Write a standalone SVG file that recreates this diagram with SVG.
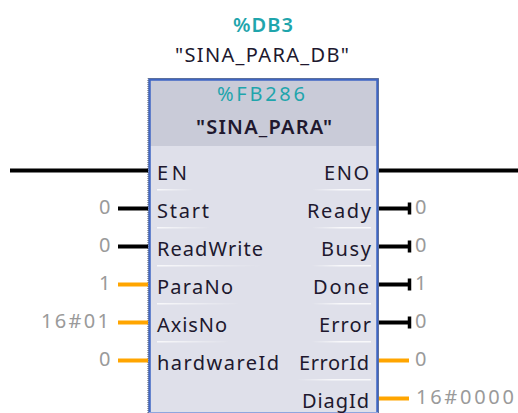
<svg xmlns="http://www.w3.org/2000/svg" width="518" height="413" viewBox="0 0 518 413">
<style>
text{font-family:"Noto Sans","Liberation Sans",sans-serif;font-size:20px;fill:#20182e}
.c{fill:#1fa5ac}
.v{fill:#9a9a9a}
.k{fill:none;stroke:#000;stroke-width:4}
.o{fill:none;stroke:#ffa500;stroke-width:4}
</style>
<defs>
<linearGradient id="fr"><stop offset="0" stop-color="#fff"/><stop offset="1" stop-color="#fff" stop-opacity="0"/></linearGradient>
<linearGradient id="fl"><stop offset="0" stop-color="#fff" stop-opacity="0"/><stop offset=".5" stop-color="#fff"/><stop offset="1" stop-color="#fff"/></linearGradient>
</defs>
<rect width="518" height="413" fill="#fff"/>
<g id="instance-labels">
<text class="c" x="233" y="32" font-weight="600" textLength="60" lengthAdjust="spacing">%DB3</text>
<text x="175" y="62" textLength="174" lengthAdjust="spacing">"SINA_PARA_DB"</text>
</g>
<g id="block">
<rect x="150" y="80" width="227" height="332" fill="#dfe0ea"/>
<rect x="150" y="80" width="227" height="66" fill="#c9cbd8"/>
<path d="M149.500 413V79.500H377.500V413" fill="none" stroke="#3f66c4" stroke-width="2.500"/>
<path d="M149 412.500H378" stroke="#8fa6de" stroke-width="1"/>
<path d="M148 413V78.500H378.500V413" fill="none" stroke="#4a5266" stroke-width="1" stroke-dasharray="1 1"/>
<text class="c" x="217" y="101" textLength="88" lengthAdjust="spacing">%FB286</text>
<text x="196" y="134" font-weight="600" textLength="136" lengthAdjust="spacing">"SINA_PARA"</text>
<g fill="url(#fr)" opacity=".8">
<rect x="157" y="189" width="38" height="1.500"/><rect x="157" y="227" width="55" height="1.500"/><rect x="157" y="265" width="105" height="1.500"/><rect x="157" y="303" width="86" height="1.500"/><rect x="157" y="341" width="75" height="1.500"/>
</g>
<g fill="url(#fl)" opacity=".8">
<rect x="311" y="189" width="60" height="1.500"/><rect x="311" y="227" width="60" height="1.500"/><rect x="311" y="265" width="60" height="1.500"/><rect x="311" y="303" width="60" height="1.500"/><rect x="311" y="341" width="60" height="1.500"/><rect x="296" y="379" width="75" height="1.500"/>
</g>
</g>
<g id="connectors">
<path class="k" d="M10 170.500H148M379 170.500H518M118 208.500H148M118 246.500H148"/>
<path class="k" d="M379 208.500H409M379 246.500H409M379 284.500H409M379 322.500H409"/>
<path d="M409.500 202.500V214.500M409.500 240.500V252.500M409.500 278.500V290.500M409.500 316.500V328.500" fill="none" stroke="#000" stroke-width="3.500"/>
<path class="o" d="M118 284.500H148M118 322.500H148M118 360.500H148M379 360.500H409M379 398.500H409"/>
</g>
<g id="pin-EN"><text x="157" y="180" textLength="30" lengthAdjust="spacing">EN</text></g>
<g id="pin-Start"><text x="157" y="218" textLength="52" lengthAdjust="spacing">Start</text></g>
<g id="pin-ReadWrite"><text x="157" y="256" textLength="106" lengthAdjust="spacing">ReadWrite</text></g>
<g id="pin-ParaNo"><text x="157" y="294" textLength="76" lengthAdjust="spacing">ParaNo</text></g>
<g id="pin-AxisNo"><text x="157" y="332" textLength="70" lengthAdjust="spacing">AxisNo</text></g>
<g id="pin-hardwareId"><text x="157" y="370" textLength="122" lengthAdjust="spacing">hardwareId</text></g>
<g id="pin-ENO"><text x="324" y="180" textLength="45" lengthAdjust="spacing">ENO</text></g>
<g id="pin-Ready"><text x="307" y="218" textLength="64" lengthAdjust="spacing">Ready</text></g>
<g id="pin-Busy"><text x="321" y="256" textLength="50" lengthAdjust="spacing">Busy</text></g>
<g id="pin-Done"><text x="313" y="294" textLength="56" lengthAdjust="spacing">Done</text></g>
<g id="pin-Error"><text x="319" y="332" textLength="52" lengthAdjust="spacing">Error</text></g>
<g id="pin-ErrorId"><text x="299" y="370" textLength="70" lengthAdjust="spacing">ErrorId</text></g>
<g id="pin-DiagId"><text x="302" y="408" textLength="67" lengthAdjust="spacing">DiagId</text></g>
<g id="values">
<text class="v" x="99" y="214">0</text>
<text class="v" x="99" y="252">0</text>
<text class="v" x="99" y="290">1</text>
<text class="v" x="41" y="328" textLength="68" lengthAdjust="spacing">16#01</text>
<text class="v" x="99" y="366">0</text>
<text class="v" x="415" y="214">0</text>
<text class="v" x="415" y="252">0</text>
<text class="v" x="415" y="290">1</text>
<text class="v" x="415" y="328">0</text>
<text class="v" x="415" y="366">0</text>
<text class="v" x="416" y="404" textLength="98" lengthAdjust="spacing">16#0000</text>
</g>
</svg>
